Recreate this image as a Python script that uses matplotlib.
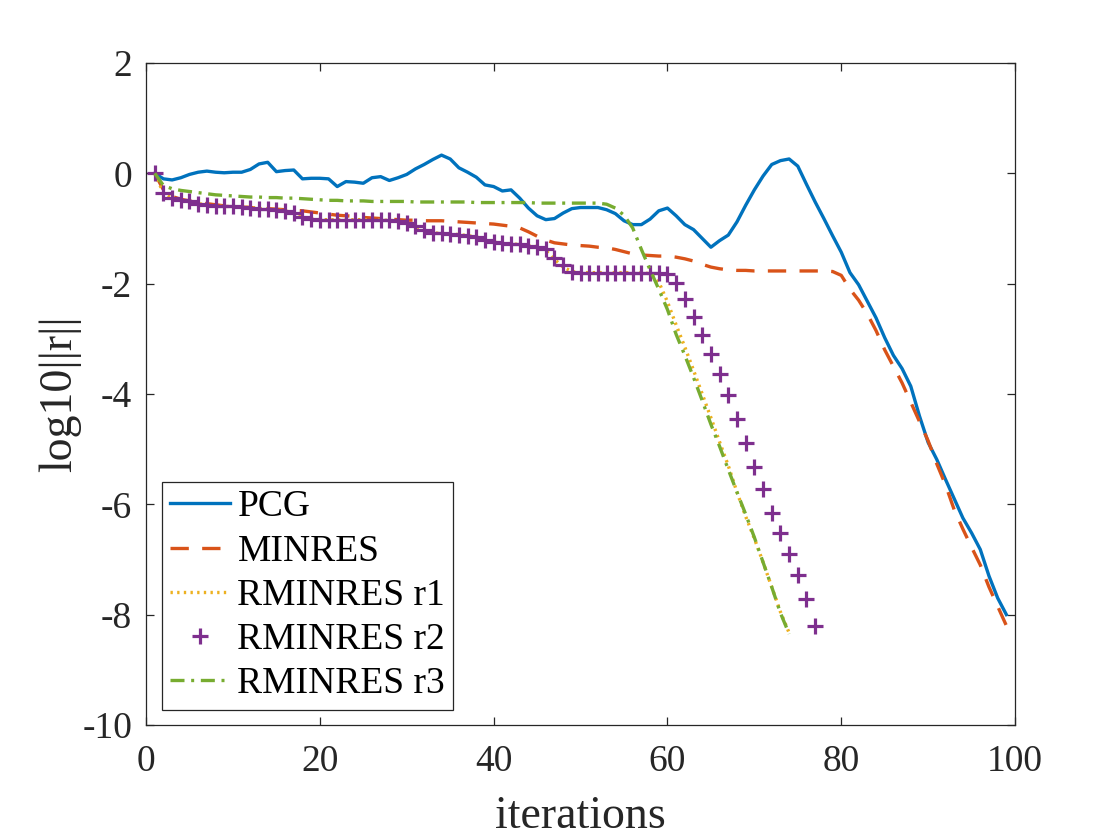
import numpy as np
import matplotlib
matplotlib.use('Agg')
import matplotlib.pyplot as plt

plt.rcParams['font.family'] = ['Liberation Serif', 'DejaVu Serif']
plt.rcParams['axes.unicode_minus'] = False

# log10 of residual norm per iteration
pcg = [0, -0.1, -0.12, -0.08, -0.02, 0.02, 0.04, 0.02, 0.01, 0.02,
       0.02, 0.07, 0.17, 0.2, 0.03, 0.05, 0.06, -0.1, -0.09, -0.09,
       -0.1, -0.24, -0.15, -0.16, -0.18, -0.08, -0.06, -0.13, -0.08, -0.02,
       0.08, 0.16, 0.25, 0.33, 0.26, 0.1, 0.02, -0.07, -0.21, -0.24,
       -0.32, -0.3, -0.45, -0.63, -0.77, -0.84, -0.82, -0.72, -0.64, -0.62,
       -0.62, -0.62, -0.66, -0.73, -0.86, -0.93, -0.93, -0.83, -0.68, -0.63,
       -0.77, -0.93, -1.02, -1.18, -1.34, -1.22, -1.12, -0.88, -0.58, -0.3,
       -0.05, 0.16, 0.23, 0.26, 0.13, -0.2, -0.52, -0.82, -1.13, -1.43,
       -1.8, -2.02, -2.32, -2.62, -2.98, -3.3, -3.54, -3.86, -4.4, -4.88,
       -5.19, -5.55, -5.9, -6.25, -6.52, -6.82, -7.3, -7.7, -8.0]

minres = [0, -0.3, -0.42, -0.47, -0.5, -0.53, -0.55, -0.57, -0.59, -0.6,
          -0.61, -0.62, -0.63, -0.64, -0.65, -0.66, -0.67, -0.68, -0.7, -0.72,
          -0.74, -0.76, -0.77, -0.78, -0.8, -0.81, -0.82, -0.83, -0.84, -0.85,
          -0.85, -0.86, -0.86, -0.86, -0.87, -0.88, -0.89, -0.9, -0.91, -0.92,
          -0.94, -0.96, -0.99, -1.06, -1.14, -1.21, -1.26, -1.28, -1.3, -1.31,
          -1.32, -1.34, -1.35, -1.38, -1.42, -1.46, -1.48, -1.49, -1.5, -1.5,
          -1.52, -1.55, -1.59, -1.65, -1.7, -1.73, -1.75, -1.76, -1.76, -1.77,
          -1.77, -1.77, -1.77, -1.77, -1.77, -1.77, -1.77, -1.77, -1.78, -1.85,
          -2.1, -2.3, -2.55, -2.85, -3.2, -3.5, -3.8, -4.15, -4.5, -4.85,
          -5.27, -5.65, -6.1, -6.45, -6.78, -7.1, -7.5, -7.85, -8.2]

rminres_r1 = [0, -0.36, -0.45, -0.48, -0.5, -0.55, -0.57, -0.59, -0.6, -0.6,
              -0.61, -0.62, -0.64, -0.64, -0.66, -0.68, -0.72, -0.79, -0.83, -0.84,
              -0.84, -0.84, -0.84, -0.84, -0.84, -0.84, -0.85, -0.85, -0.87, -0.9,
              -0.96, -1.02, -1.08, -1.09, -1.1, -1.11, -1.13, -1.15, -1.2, -1.25,
              -1.26, -1.28, -1.29, -1.31, -1.33, -1.4, -1.56, -1.7, -1.78, -1.8,
              -1.8, -1.8, -1.8, -1.8, -1.8, -1.8, -1.8, -1.82, -1.97, -2.33,
              -2.75, -3.15, -3.57, -4.0, -4.43, -4.87, -5.3, -5.78, -6.22, -6.62,
              -7.05, -7.5, -7.95, -8.33]

rminres_r2 = [0, -0.36, -0.45, -0.48, -0.5, -0.55, -0.57, -0.59, -0.6, -0.6,
              -0.61, -0.62, -0.64, -0.64, -0.66, -0.68, -0.72, -0.79, -0.83, -0.84,
              -0.84, -0.84, -0.84, -0.84, -0.84, -0.84, -0.85, -0.85, -0.87, -0.9,
              -0.96, -1.02, -1.08, -1.09, -1.1, -1.11, -1.13, -1.15, -1.2, -1.25,
              -1.26, -1.28, -1.29, -1.31, -1.33, -1.38, -1.53, -1.67, -1.78, -1.8,
              -1.8, -1.8, -1.8, -1.8, -1.8, -1.8, -1.8, -1.8, -1.8, -1.82,
              -1.99, -2.28, -2.6, -2.94, -3.27, -3.64, -4.02, -4.45, -4.89, -5.32,
              -5.73, -6.15, -6.52, -6.9, -7.29, -7.72, -8.21]

rminres_r3 = [0, -0.22, -0.28, -0.31, -0.33, -0.35, -0.37, -0.39, -0.4, -0.41,
              -0.42, -0.43, -0.43, -0.44, -0.44, -0.45, -0.45, -0.46, -0.47, -0.48,
              -0.49, -0.49, -0.5, -0.5, -0.5, -0.51, -0.51, -0.51, -0.51, -0.51,
              -0.52, -0.52, -0.52, -0.52, -0.52, -0.52, -0.52, -0.53, -0.53, -0.53,
              -0.53, -0.53, -0.53, -0.53, -0.54, -0.54, -0.54, -0.54, -0.54, -0.54,
              -0.54, -0.54, -0.56, -0.63, -0.76, -0.99, -1.38, -1.75, -2.1, -2.47,
              -2.92, -3.3, -3.7, -4.12, -4.55, -4.95, -5.37, -5.78, -6.18, -6.6,
              -7.05, -7.5, -7.97, -8.35]

labels = ['PCG', 'MINRES', 'RMINRES r1', 'RMINRES r2', 'RMINRES r3']

fig = plt.figure(figsize=(11.2, 8.4), dpi=100)
ax = fig.add_axes([0.1304, 0.137, 0.7759, 0.788])

lw = 2.4
ax.plot(np.arange(1, len(pcg) + 1), pcg, color='#0072BD', lw=lw, label=labels[0])
ax.plot(np.arange(1, len(minres) + 1), minres, color='#D95319', lw=lw,
        dashes=(5.5, 4), label=labels[1])
ax.plot(np.arange(1, len(rminres_r1) + 1), rminres_r1, color='#EDB120', lw=lw,
        dashes=(0.7, 1.3), label=labels[2])
ax.plot(np.arange(1, len(rminres_r2) + 1), rminres_r2, color='#7E2F8E', lw=0,
        marker='+', markersize=11, markeredgewidth=2.3, label=labels[3])
ax.plot(np.arange(1, len(rminres_r3) + 1), rminres_r3, color='#77AC30', lw=lw,
        dashes=(4.2, 2, 0.9, 2), label=labels[4])

ax.set_xlim(0, 100)
ax.set_ylim(-10, 2)
ax.set_xticks([0, 20, 40, 60, 80, 100])
ax.set_yticks([-10, -8, -6, -4, -2, 0, 2])

dark = '#262626'
for s in ax.spines.values():
    s.set_linewidth(0.9)
    s.set_color(dark)
ax.tick_params(direction='in', length=6, width=0.9, colors=dark, labelsize=27,
               top=True, right=True)
ax.tick_params(axis='y', pad=10)
ax.tick_params(axis='x', pad=14)

ax.set_xlabel('iterations', fontsize=33, color=dark, labelpad=12)
ax.set_ylabel('log10||r||', fontsize=33, color=dark, labelpad=1)

leg = ax.legend(loc='lower left', bbox_to_anchor=(0.018, 0.023), borderaxespad=0,
                fontsize=27, fancybox=False, framealpha=1, edgecolor=dark,
                handlelength=1.6, labelspacing=0.26, handletextpad=0.2,
                borderpad=0.22)
leg.get_frame().set_linewidth(0.9)

plt.savefig('out.png', dpi=100)
